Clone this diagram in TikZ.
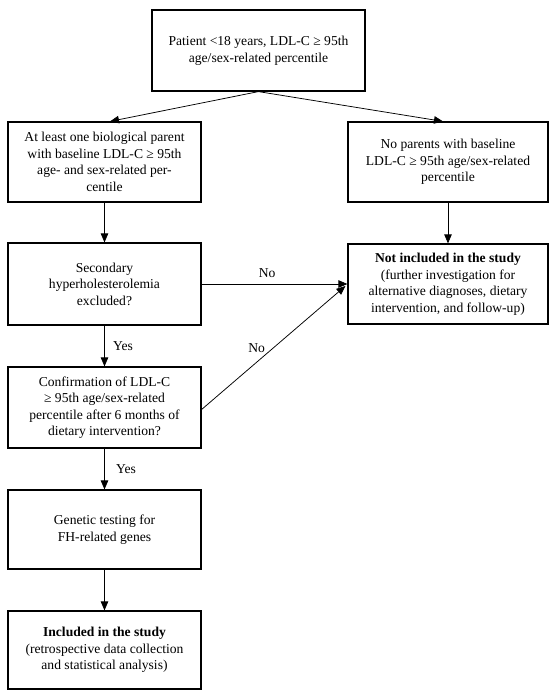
\documentclass[tikz,border=0pt]{standalone}
\usepackage{fontspec}
\setmainfont{Liberation Serif}
\usetikzlibrary{arrows.meta,calc}
\tikzset{
  box/.style={draw, line width=1.2pt, align=center, inner sep=2pt, font=\fontsize{13.6}{16.5}\selectfont},
  arr/.style={line width=0.75pt, -{Triangle[length=9pt,width=7.5pt]}},
  lbl/.style={font=\fontsize{13.6}{16}\selectfont}
}
\begin{document}
\begin{tikzpicture}[x=1pt,y=-1pt]
\useasboundingbox (0,0) rectangle (550,697);
\node[box, minimum width=213pt, minimum height=81pt] (top) at (258.5,50.5)
  {Patient <18 years, LDL-C ≥ 95th\\age/sex-related percentile};
\node[box, minimum width=193pt, minimum height=80pt] (parent) at (104.5,162)
  {At least one biological parent\\with baseline LDL-C ≥ 95th\\age- and sex-related per-\\centile};
\node[box, minimum width=200pt, minimum height=80pt] (noparent) at (448,162)
  {No parents with baseline\\LDL-C ≥ 95th age/sex-related\\percentile};
\node[box, minimum width=200pt, minimum height=80pt] (notinc) at (448,284)
  {\textbf{Not included in the study}\\(further investigation for\\alternative diagnoses, dietary\\intervention, and follow-up)};
\node[box, minimum width=193pt, minimum height=82pt] (secondary) at (104.5,284)
  {Secondary\\hyperholesterolemia\\excluded?};
\node[box, minimum width=193pt, minimum height=81pt] (confirm) at (104.5,407.5)
  {Confirmation of LDL-C\\≥ 95th age/sex-related\\percentile after 6 months of\\dietary intervention?};
\node[box, minimum width=193pt, minimum height=79pt] (genetic) at (104.5,529.5)
  {Genetic testing for\\FH-related genes};
\node[box, minimum width=193pt, minimum height=78pt] (included) at (104.5,650)
  {\textbf{Included in the study}\\(retrospective data collection\\and statistical analysis)};
\coordinate (pt) at ($(parent.north)+(5.5,0)$);
\coordinate (nt) at ($(noparent.north)+(-5,0)$);
\draw[arr] (top.south) -- (pt);
\draw[arr] (top.south) -- (nt);
\draw[arr] (noparent.south) -- (notinc.north);
\draw[arr] (parent.south) -- (secondary.north);
\draw[arr] (secondary.east) -- node[lbl, above=3pt, pos=0.45] (no1) {No} (notinc.west);
\draw[arr] (secondary.south) -- node[lbl, right=5pt] (yes1) {Yes} (confirm.north);
\coordinate (ce) at ($(confirm.east)+(0,2)$);
\coordinate (nw) at ($(notinc.west)+(-2,2)$);
\draw[arr] (ce) -- node[lbl, anchor=south east, inner sep=1pt, pos=0.45] (no2) {No} (nw);
\draw[arr] (confirm.south) -- node[lbl, right=8pt] (yes2) {Yes} (genetic.north);
\draw[arr] (genetic.south) -- (included.north);
\end{tikzpicture}
\end{document}
